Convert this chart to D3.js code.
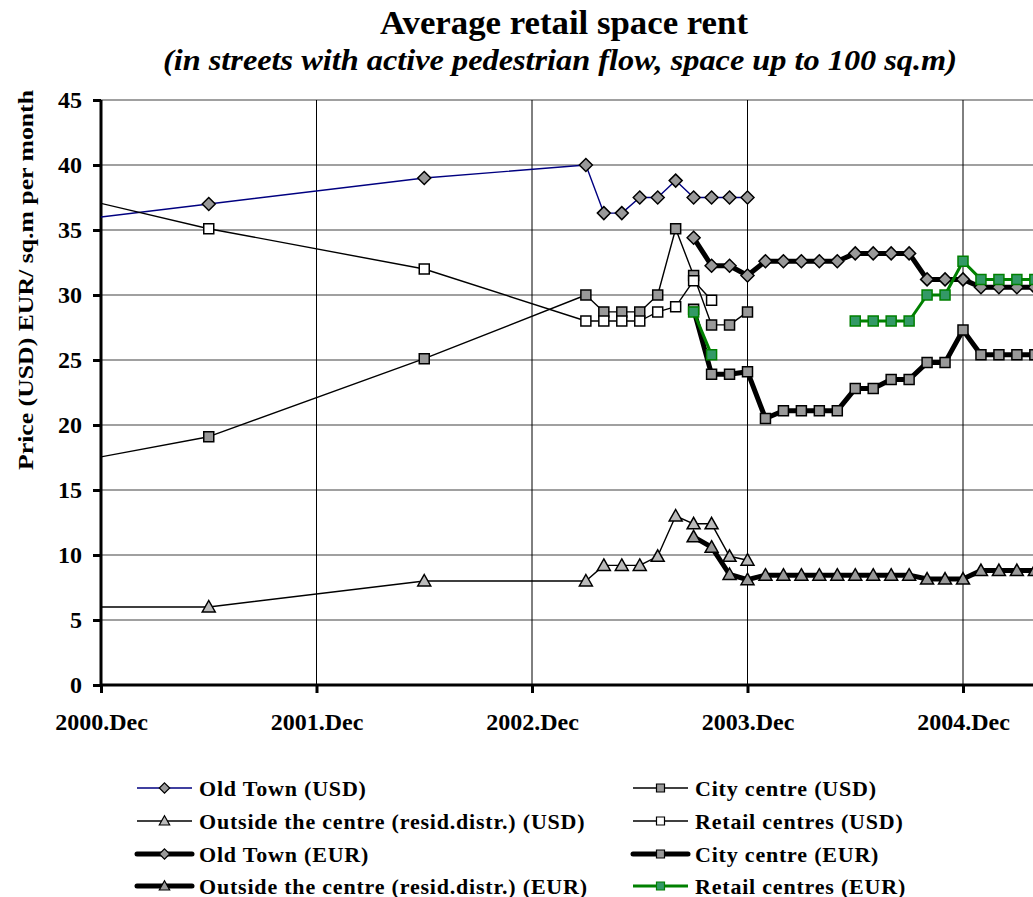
<!DOCTYPE html>
<html>
<head>
<meta charset="utf-8">
<script src="https://cdn.jsdelivr.net/npm/d3@7"></script>
<style>
  body { margin: 0; background: #fff; }
  svg { display: block; }
  text { font-family: "Liberation Serif", "Times New Roman", serif; font-weight: bold; fill: #000; }
</style>
</head>
<body>
<div id="chart"></div>
<script>
// months counted from 2000.Dec (0 = Dec 2000, 12 = Dec 2001 ...)
const yearTicks = [0, 12, 24, 36, 48];
const yearLabels = ["2000.Dec", "2001.Dec", "2002.Dec", "2003.Dec", "2004.Dec"];
const yTicks = [0, 5, 10, 15, 20, 25, 30, 35, 40, 45];

const usdMonths = [-6, 6, 18, 27, 28, 29, 30, 31, 32, 33, 34, 35, 36];
const retailUsdMonths = [-6, 6, 18, 27, 28, 29, 30, 31, 32, 33, 34];
const eurMonths = [33, 34, 35, 36, 37, 38, 39, 40, 41, 42, 43, 44, 45, 46, 47, 48, 49, 50, 51, 52];

const oldTownUsd = [35, 37, 39, 40, 36.3, 36.3, 37.5, 37.5, 38.8, 37.5, 37.5, 37.5, 37.5];
const cityUsd = [16, 19.1, 25.1, 30, 28.7, 28.7, 28.7, 30, 35.1, 31.5, 27.7, 27.7, 28.7];
const outsideUsd = [6, 6, 8, 8, 9.2, 9.2, 9.2, 9.9, 13, 12.4, 12.4, 9.9, 9.6];
const retailUsd = [39, 35.1, 32, 28, 28, 28, 28, 28.7, 29.1, 31.1, 29.6];

const oldTownEur = [34.4, 32.25, 32.25, 31.5, 32.6, 32.6, 32.6, 32.6, 32.6, 33.2, 33.2, 33.2, 33.2, 31.2, 31.2, 31.2, 30.6, 30.6, 30.6, 30.6];
const cityEur = [28.9, 23.9, 23.9, 24.1, 20.5, 21.1, 21.1, 21.1, 21.1, 22.8, 22.8, 23.5, 23.5, 24.8, 24.8, 27.3, 25.4, 25.4, 25.4, 25.4];
const outsideEur = [11.4, 10.6, 8.5, 8.1, 8.45, 8.45, 8.45, 8.45, 8.45, 8.45, 8.45, 8.45, 8.45, 8.15, 8.15, 8.15, 8.8, 8.8, 8.8, 8.8];
const retailEur = [28.7, 25.4, null, null, null, null, null, null, null, 28, 28, 28, 28, 30, 30, 32.6, 31.2, 31.2, 31.2, 31.2];

const seriesNames = [
    "Old Town (USD)", "City centre (USD)",
    "Outside the centre (resid.distr.) (USD)", "Retail centres (USD)",
    "Old Town (EUR)", "City centre (EUR)",
    "Outside the centre (resid.distr.) (EUR)", "Retail centres (EUR)"
];

// build the series table (drawing order = legend order)
let series = [
    { name: seriesNames[0], months: usdMonths, values: oldTownUsd, stroke: "#000080", width: 1.4, marker: "diamond", fill: "#999999", mstroke: "#000" },
    { name: seriesNames[1], months: usdMonths, values: cityUsd, stroke: "#000", width: 1.4, marker: "square", fill: "#999999", mstroke: "#000" },
    { name: seriesNames[2], months: usdMonths, values: outsideUsd, stroke: "#000", width: 1.4, marker: "triangle", fill: "#bbbbbb", mstroke: "#000" },
    { name: seriesNames[3], months: retailUsdMonths, values: retailUsd, stroke: "#000", width: 1.4, marker: "square", fill: "#fff", mstroke: "#000" },
    { name: seriesNames[4], months: eurMonths, values: oldTownEur, stroke: "#000", width: 5, marker: "diamond", fill: "#999999", mstroke: "#000" },
    { name: seriesNames[5], months: eurMonths, values: cityEur, stroke: "#000", width: 5, marker: "square", fill: "#999999", mstroke: "#000" },
    { name: seriesNames[6], months: eurMonths, values: outsideEur, stroke: "#000", width: 5, marker: "triangle", fill: "#999999", mstroke: "#000" },
    { name: seriesNames[7], months: eurMonths, values: retailEur, stroke: "#008000", width: 3, marker: "square", fill: "#339966", mstroke: "#008000" }
];

let svgWidth = 1033;
let svgHeight = 897;

// plot area (the right side runs past the picture edge)
let plot = { left: 101, top: 100, bottom: 685, right: 1200 };

let svg = d3.select("#chart")
    .append("svg")
    .attr("width", svgWidth)
    .attr("height", svgHeight);

let xScale = d3.scaleLinear()
    .domain([0, 48])
    .range([plot.left, 963]);

let yScale = d3.scaleLinear()
    .domain([0, 45])
    .range([plot.bottom, plot.top]);

// titles
svg.append("text")
    .attr("x", 564)
    .attr("y", 34)
    .attr("text-anchor", "middle")
    .style("font-size", "34px")
    .attr("textLength", 368)
    .attr("lengthAdjust", "spacingAndGlyphs")
    .text("Average retail space rent");

svg.append("text")
    .attr("x", 560)
    .attr("y", 70)
    .attr("text-anchor", "middle")
    .style("font-size", "30px")
    .style("font-style", "italic")
    .attr("textLength", 794)
    .attr("lengthAdjust", "spacingAndGlyphs")
    .text("(in streets with active pedestrian flow, space up to 100 sq.m)");

// y axis title
svg.append("text")
    .attr("transform", "translate(33, 280) rotate(-90)")
    .attr("text-anchor", "middle")
    .style("font-size", "22px")
    .attr("textLength", 380)
    .attr("lengthAdjust", "spacingAndGlyphs")
    .text("Price (USD) EUR/ sq.m per month");

// grid lines
svg.append("g")
    .selectAll("line")
    .data(yTicks.filter(d => d > 0))
    .join("line")
    .attr("x1", plot.left)
    .attr("x2", plot.right)
    .attr("y1", d => yScale(d))
    .attr("y2", d => yScale(d))
    .attr("stroke", "#808080")
    .attr("stroke-width", 1.3);

svg.append("g")
    .selectAll("line")
    .data(yearTicks.filter(d => d > 0))
    .join("line")
    .attr("x1", d => xScale(d))
    .attr("x2", d => xScale(d))
    .attr("y1", plot.top)
    .attr("y2", plot.bottom)
    .attr("stroke", "#000")
    .attr("stroke-width", 1);

// axes
let leftAxis = d3.axisLeft(yScale)
    .tickValues(yTicks)
    .tickSize(8)
    .tickPadding(11);

let bottomAxis = d3.axisBottom(xScale)
    .tickValues(yearTicks)
    .tickFormat((d, i) => yearLabels[i])
    .tickSize(8)
    .tickPadding(20);

let yAxisG = svg.append("g")
    .attr("transform", `translate(${plot.left}, 0)`)
    .call(leftAxis);

let xAxisG = svg.append("g")
    .attr("transform", `translate(0, ${plot.bottom})`)
    .call(bottomAxis);

xAxisG.select(".domain").remove();
yAxisG.select(".domain").remove();
[yAxisG, xAxisG].forEach(g => {
    g.selectAll(".tick line").attr("stroke", "#000").attr("stroke-width", 3);
    g.selectAll(".tick text")
        .style("font-family", "'Liberation Serif', serif")
        .style("font-weight", "bold")
        .style("font-size", "24px");
});

// heavy axis lines
svg.append("line")
    .attr("x1", plot.left).attr("x2", plot.right)
    .attr("y1", plot.bottom).attr("y2", plot.bottom)
    .attr("stroke", "#000").attr("stroke-width", 3);
svg.append("line")
    .attr("x1", plot.left).attr("x2", plot.left)
    .attr("y1", plot.top).attr("y2", plot.bottom + 1.5)
    .attr("stroke", "#000").attr("stroke-width", 3);

// clip for the series
svg.append("clipPath")
    .attr("id", "plotClip")
    .append("rect")
    .attr("x", plot.left)
    .attr("y", plot.top - 10)
    .attr("width", plot.right - plot.left)
    .attr("height", plot.bottom - plot.top + 10);

let lineGen = d3.line()
    .defined(d => d.v !== null)
    .x(d => xScale(d.m))
    .y(d => yScale(d.v));

// marker shapes
function markerPath(type) {
    if (type === "diamond") return "M0,-6.5L6.5,0L0,6.5L-6.5,0Z";
    if (type === "triangle") return "M0,-6.5L6.5,5L-6.5,5Z";
    return "M-5,-5L5,-5L5,5L-5,5Z";
}

let seriesG = svg.append("g").attr("clip-path", "url(#plotClip)");

series.forEach(s => {
    let pts = s.months.map((m, i) => ({ m: m, v: s.values[i] }));
    let g = seriesG.append("g");

    g.append("path")
        .datum(pts)
        .attr("d", lineGen)
        .attr("fill", "none")
        .attr("stroke", s.stroke)
        .attr("stroke-width", s.width)
        .attr("stroke-linejoin", "round");

    g.selectAll("path.mark")
        .data(pts.filter(d => d.v !== null))
        .join("path")
        .attr("class", "mark")
        .attr("d", markerPath(s.marker))
        .attr("transform", d => `translate(${xScale(d.m)}, ${yScale(d.v)})`)
        .attr("fill", s.fill)
        .attr("stroke", s.mstroke)
        .attr("stroke-width", 1.5);
});

// legend, two columns
let legend = svg.append("g");
let legendCols = [137, 633];
let legendRows = [788, 821, 854, 886];

series.forEach((s, i) => {
    let x0 = legendCols[i % 2];
    let y0 = legendRows[Math.floor(i / 2)];
    let item = legend.append("g").attr("transform", `translate(${x0}, ${y0})`);

    item.append("line")
        .attr("x1", 0).attr("x2", 55)
        .attr("y1", 0).attr("y2", 0)
        .attr("stroke", s.stroke)
        .attr("stroke-width", s.width)
        .attr("stroke-linecap", s.width > 3 ? "round" : "butt");

    item.append("path")
        .attr("d", markerPath(s.marker))
        .attr("transform", "translate(27.5, 0) scale(0.8)")
        .attr("fill", s.fill)
        .attr("stroke", s.mstroke)
        .attr("stroke-width", 1.5);

    item.append("text")
        .attr("x", 62)
        .attr("y", 7.5)
        .style("font-size", "22px")
        .style("letter-spacing", "0.8px")
        .text(s.name);
});
</script>
</body>
</html>
